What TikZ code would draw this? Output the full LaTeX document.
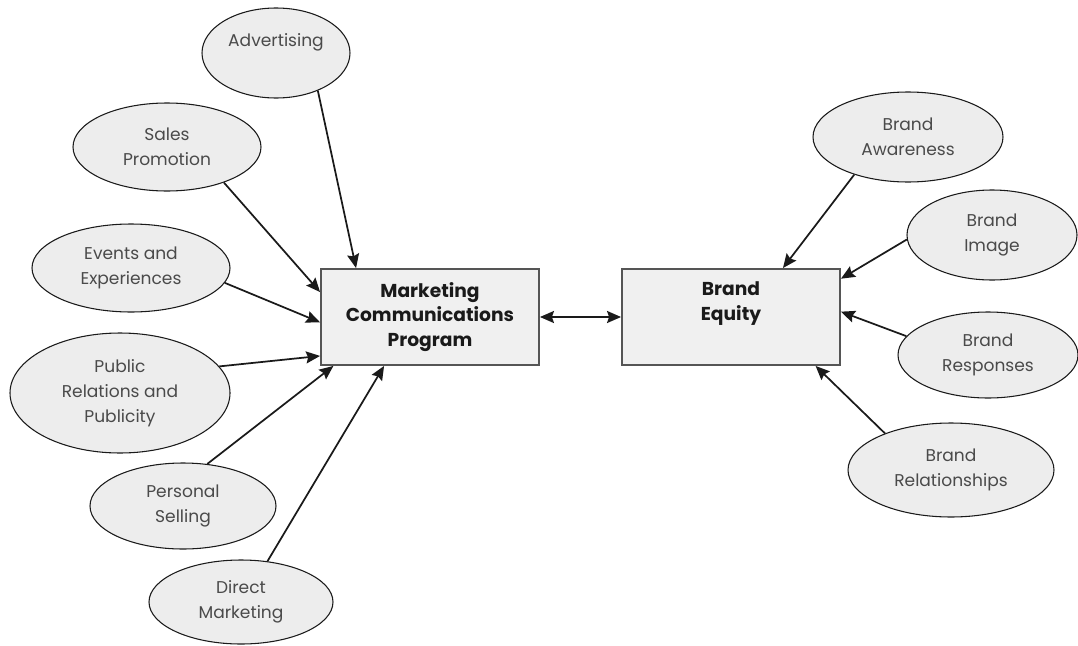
\documentclass[tikz,border=0pt]{standalone}
\usepackage{fontspec}
\setmainfont{Poppins}
\usetikzlibrary{arrows.meta,shapes.geometric}
\definecolor{bubblefill}{HTML}{EDEDED}
\definecolor{boxfill}{HTML}{F0F0F0}
\definecolor{boxline}{HTML}{555555}
\definecolor{inkline}{HTML}{1A1A1A}
\definecolor{softtext}{HTML}{4A4A4A}
\begin{document}
\begin{tikzpicture}[x=0.75pt,y=-0.75pt,
  tip/.tip={Stealth[length=10.5pt,width=9pt,inset=1.5pt]},
  bubble/.style={ellipse,draw=inkline,line width=0.8pt,fill=bubblefill,
    inner sep=0pt,align=center,text=softtext,
    font=\fontsize{12.8}{18.75}\selectfont},
  hub/.style={rectangle,draw=boxline,line width=1.4pt,fill=boxfill,
    minimum width=163.5pt,minimum height=72pt,inner sep=0pt,align=center,
    text=inkline,font=\fontsize{14}{18.5}\selectfont\bfseries},
  feed/.style={draw=inkline,line width=1.3pt,-tip},
  link/.style={draw=inkline,line width=1.3pt,tip-tip}]
\useasboundingbox (0,0) rectangle (1078,646);

% central boxes
\node[hub] (mcp) at (430,317) {Marketing\\Communications\\Program};
\node[hub] (be)  at (731,317) {Brand\\Equity\\\strut};

% communication options
\node[bubble,minimum width=111pt,minimum height=67.5pt]   (adv) at (276,53)  {Advertising\\[-5pt]\strut};
\node[bubble,minimum width=141pt,minimum height=66pt]     (sp)  at (167,147) {Sales\\Promotion};
\node[bubble,minimum width=148.5pt,minimum height=66pt]   (ev)  at (131,268) {Events and\\Experiences};
\node[bubble,minimum width=165pt,minimum height=90pt]     (pr)  at (120,393) {Public\\Relations and\\Publicity};
\node[bubble,minimum width=139.5pt,minimum height=64.5pt] (ps)  at (183,506) {Personal\\Selling};
\node[bubble,minimum width=138pt,minimum height=63pt]     (dm)  at (241,602) {Direct\\Marketing};

% brand equity dimensions
\node[bubble,minimum width=142.5pt,minimum height=67.5pt] (ba)  at (908,137) {Brand\\Awareness};
\node[bubble,minimum width=127.5pt,minimum height=67.5pt] (bi)  at (992,235) {Brand\\Image};
\node[bubble,minimum width=135pt,minimum height=64.5pt]   (br)  at (988,355) {Brand\\Responses};
\node[bubble,minimum width=154.5pt,minimum height=70.5pt] (brl) at (951,470) {Brand\\Relationships};

% arrows into the program
\draw[feed] (adv.-42)  -- ([xshift=27pt]mcp.north west);
\draw[feed] (sp.-32)   -- ([yshift=-18pt]mcp.north west);
\draw[feed] (ev.-9)    -- ([yshift=-4pt]mcp.west);
\draw[feed] (pr.15.6)  -- ([yshift=7.5pt]mcp.south west);
\draw[feed] (ps.60)    -- ([xshift=10pt]mcp.south west);
\draw[feed] (dm.57)    -- ([xshift=48pt]mcp.south west);

% arrows into brand equity
\draw[feed] (ba.-145)  -- ([xshift=-43.5pt]be.north east);
\draw[feed] (bi.-177)  -- ([yshift=-8pt]be.north east);
\draw[feed] (br.167.5) -- ([yshift=4pt]be.east);
\draw[feed] (brl.151)  -- ([xshift=-19pt]be.south east);

% two-way link
\draw[link] (mcp) -- (be);
\end{tikzpicture}
\end{document}
